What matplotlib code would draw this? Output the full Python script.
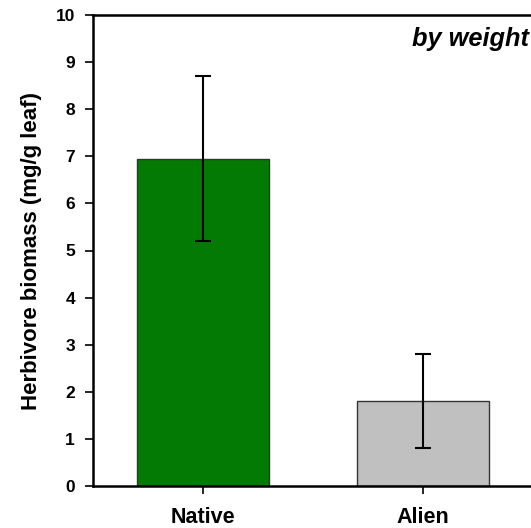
import matplotlib
matplotlib.use("Agg")
import matplotlib.pyplot as plt
import numpy as np

categories = ["Native", "Alien"]
means = [6.95, 1.8]
err_low = [5.2, 0.8]
err_high = [8.7, 2.8]
colors = ["#037a03", "#c0c0c0"]
yticks = list(range(0, 11))

plt.rcParams['font.family'] = ['Liberation Sans', 'DejaVu Sans']
plt.rcParams['font.weight'] = 'bold'

fig = plt.figure(figsize=(5.31, 5.28), dpi=100)
W, H = 531, 528
left, right, top, bottom = 93, 533, 15, 486
ax = fig.add_axes([left / W, 1 - bottom / H, (right - left) / W, (bottom - top) / H])

x = np.arange(len(categories))
means_a = np.array(means)
yerr = np.array([means_a - np.array(err_low), np.array(err_high) - means_a])
ax.bar(x, means, width=0.6, color=colors, edgecolor="#333333", linewidth=1.0, zorder=2)
ax.errorbar(x, means, yerr=yerr, fmt="none", ecolor="black", elinewidth=1.5,
            capsize=5.8, capthick=1.5, zorder=3)

ax.set_xlim(-0.5, 1.5)
ax.set_ylim(0, 10)
ax.set_yticks(yticks)
ax.set_yticklabels([str(t) for t in yticks], fontsize=12.5, fontweight='bold')
ax.set_xticks(x)
ax.set_xticklabels(categories, fontsize=15.5, fontweight='bold')
ax.tick_params(axis='y', direction='out', length=6, width=1.2, pad=7)
ax.tick_params(axis='x', direction='out', length=6, width=1.2, pad=9)
for s in ['left', 'bottom', 'top', 'right']:
    ax.spines[s].set_linewidth(1.8)
ax.set_ylabel("Herbivore biomass (mg/g leaf)", fontsize=16, fontweight='bold', labelpad=10)

ax.text(412 / W, 1 - 46 / H, "by weight", transform=fig.transFigure,
        fontsize=18.3, fontweight='bold', fontstyle='italic', ha='left', va='baseline')

fig.savefig("out.png", dpi=100)
